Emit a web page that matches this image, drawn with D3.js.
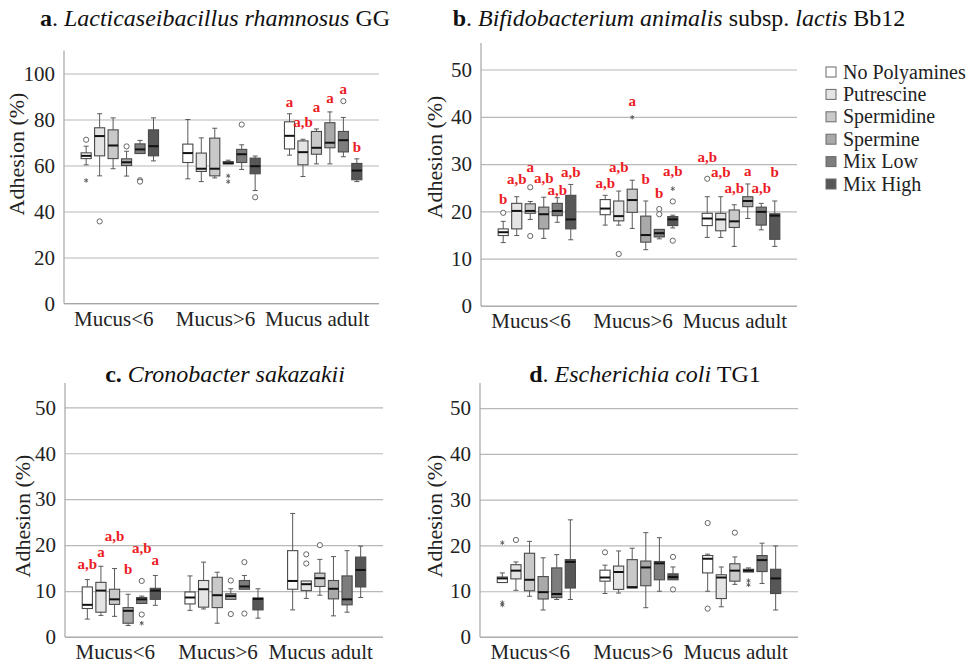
<!DOCTYPE html>
<html>
<head>
<meta charset="utf-8">
<script src="https://cdn.jsdelivr.net/npm/d3@7"></script>
<style>
body { margin: 0; background: #fff; }
text { font-family: "Liberation Serif", "Times New Roman", serif; white-space: pre; }
</style>
</head>
<body>
<script>
// categories and series
var categories = ["Mucus<6", "Mucus>6", "Mucus adult"];
var series = ["No Polyamines", "Putrescine", "Spermidine", "Spermine", "Mix Low", "Mix High"];

var ticksA = [0, 20, 40, 60, 80, 100];
var ticksBCD = [0, 10, 20, 30, 40, 50];

// box stats per category, per series: [whisker low, q1, median, q3, whisker high]
var boxesA = [
  [[60.3, 63.0, 64.2, 65.5, 68.4], [55.5, 64.2, 72.8, 76.4, 82.5], [58.6, 63.0, 68.7, 75.5, 80.7],
   [55.4, 60.0, 61.4, 62.9, 66.2], [65.2, 65.2, 67.0, 69.4, 70.9], [62.0, 64.2, 68.4, 75.5, 80.7]],
  [[54.2, 61.3, 65.4, 69.3, 80.0], [53.0, 57.4, 58.6, 65.4, 72.0], [54.6, 55.5, 58.6, 71.9, 76.2],
   [60.7, 60.7, 61.0, 61.7, 62.3], [58.3, 61.3, 64.9, 67.0, 69.0], [49.1, 56.4, 59.7, 63.2, 64.1]],
  [[64.5, 67.2, 72.9, 79.0, 82.5], [55.2, 60.3, 65.8, 70.7, 71.4], [60.7, 64.9, 67.7, 74.8, 75.9],
   [60.7, 67.7, 69.9, 78.6, 83.3], [63.8, 65.9, 71.0, 74.8, 80.9], [53.0, 53.8, 57.8, 60.9, 62.9]]
];
var boxesB = [
  [[13.4, 14.9, 15.6, 16.3, 17.9], [14.9, 16.3, 20.1, 21.7, 23.1], [18.3, 19.6, 20.1, 21.6, 22.1],
   [14.3, 16.3, 19.4, 20.9, 23.0], [17.7, 19.1, 20.1, 21.7, 22.9], [14.0, 16.3, 18.3, 23.4, 25.7]],
  [[17.1, 19.3, 20.6, 22.5, 23.4], [17.1, 18.0, 19.0, 22.2, 24.3], [16.4, 19.8, 22.4, 24.7, 26.6],
   [11.9, 13.5, 15.0, 19.0, 22.2], [14.2, 14.6, 15.4, 16.2, 16.2], [16.5, 17.0, 18.3, 18.9, 19.2]],
  [[14.5, 17.0, 18.5, 19.6, 23.1], [14.5, 15.9, 18.3, 19.6, 23.1], [12.6, 16.6, 17.9, 20.3, 21.4],
   [18.5, 21.0, 22.2, 23.1, 25.8], [16.1, 17.1, 19.9, 20.9, 21.7], [12.6, 14.1, 19.1, 19.5, 22.2]]
];
var boxesC = [
  [[3.9, 6.2, 7.0, 10.9, 12.5], [4.7, 5.4, 10.1, 11.9, 15.4], [4.5, 7.1, 8.2, 10.4, 14.9],
   [2.5, 3.0, 5.7, 6.4, 9.3], [7.3, 7.3, 8.2, 8.6, 8.9], [6.9, 8.2, 10.1, 10.6, 13.4]],
  [[5.8, 7.2, 8.6, 9.8, 13.3], [6.1, 6.5, 10.4, 12.3, 16.3], [3.0, 6.4, 9.1, 13.0, 14.1],
   [8.2, 8.2, 8.9, 9.4, 10.5], [10.4, 10.4, 11.0, 12.3, 13.4], [4.1, 5.9, 8.3, 8.5, 10.5]],
  [[5.9, 10.4, 12.2, 18.8, 26.9], [8.4, 10.1, 11.5, 12.2, 12.2], [9.1, 11.0, 12.8, 13.9, 16.9],
   [4.6, 8.3, 10.5, 12.3, 17.5], [5.4, 7.0, 8.2, 13.3, 18.8], [8.6, 10.9, 14.6, 17.4, 19.8]]
];
var boxesD = [
  [[11.9, 11.9, 12.8, 13.1, 14.0], [10.2, 12.7, 14.5, 15.8, 16.4], [8.9, 10.1, 12.5, 18.3, 20.9],
   [5.9, 8.3, 9.8, 13.2, 17.3], [8.2, 8.6, 9.4, 15.1, 18.0], [8.2, 10.7, 16.4, 16.9, 25.6]],
  [[9.5, 12.2, 13.0, 14.6, 15.7], [9.6, 10.4, 14.2, 15.5, 18.8], [10.7, 10.7, 10.9, 16.9, 19.4],
   [6.4, 11.2, 15.2, 16.6, 22.8], [10.0, 12.5, 16.1, 16.5, 21.7], [12.5, 12.5, 13.1, 13.8, 15.3]],
  [[10.0, 14.0, 17.1, 17.8, 18.1], [6.6, 8.4, 13.0, 13.6, 15.3], [11.5, 12.2, 14.5, 16.0, 17.5],
   [14.2, 14.2, 14.5, 14.8, 15.1], [11.7, 14.3, 16.8, 17.8, 20.5], [5.9, 9.5, 12.8, 14.8, 19.9]]
];

// outliers (circles) and extremes (stars): [category index, series index, value]
var outliersA = [[0,0,71.2],[0,1,35.7],[0,3,68.3],[0,4,53.6],[0,4,53.0],[1,4,77.8],[1,5,46.2],[2,4,88.0]];
var extremesA = [[0,0,53.5],[1,3,55.5],[1,3,53.0]];
var outliersB = [[0,0,19.7],[0,2,25.1],[0,2,14.8],[1,1,11.0],[1,4,20.5],[1,4,19.4],[1,5,22.1],[1,5,13.8],[2,0,26.9]];
var extremesB = [[1,2,39.9],[1,5,24.8]];
var outliersC = [[0,4,12.2],[0,4,4.9],[1,3,12.3],[1,3,5.0],[1,4,16.3],[1,4,5.1],[2,1,18.0],[2,1,16.0],[2,2,20.0]];
var extremesC = [[0,4,3.0]];
var outliersD = [[0,1,21.2],[1,0,18.5],[1,5,17.5],[1,5,10.4],[2,0,24.9],[2,0,6.2],[2,2,22.8]];
var extremesD = [[0,0,20.6],[0,0,7.5],[0,0,7.0],[2,3,12.3],[2,3,11.4]];

// significance letters: [category index, series index, letter, value where the letter sits]
var lettersA = [[2,0,"a",85.5],[2,1,"a,b",76.7],[2,2,"a",83.2],[2,3,"a",87.1],[2,4,"a",91.0],[2,5,"b",65.8]];
var lettersB = [
  [0,0,"b",21.6],[0,1,"a,b",25.8],[0,2,"a",28.3],[0,3,"a,b",25.9],[0,4,"a,b",23.5],[0,5,"a,b",27.3],
  [1,0,"a,b",25.0],[1,1,"a,b",28.3],[1,2,"a",42.2],[1,3,"b",25.7],[1,4,"b",22.9],[1,5,"a,b",27.5],
  [2,0,"a,b",30.4],[2,1,"a,b",27.2],[2,2,"a,b",23.8],[2,3,"a",27.5],[2,4,"a,b",23.8],[2,5,"b",27.2]
];
var lettersC = [[0,0,"a,b",14.9],[0,1,"a",17.5],[0,2,"a,b",20.9],[0,3,"b",13.8],[0,4,"a,b",18.2],[0,5,"a",15.7]];
var lettersD = [];

var fills = ["#ffffff", "#e4e4e4", "#c9c9c9", "#a9a9a9", "#7d7d7d", "#575757"];

var svg = d3.select("body").append("svg")
    .attr("width", 968)
    .attr("height", 665)
    .style("background", "#fff");

var panels = [
  {left: 64, right: 379, y0: 303.5, yTop: 50.5, max: 110, ticks: ticksA, boxes: boxesA,
   outliers: outliersA, extremes: extremesA, letters: lettersA, labelX: 24, labelY: 154, xlabPad: 8,
   titleX: 215, titleY: 26,
   title: [["a", "bold"], [". ", ""], ["Lacticaseibacillus rhamnosus", "italic"], [" GG", ""]]},
  {left: 481, right: 797, y0: 306, yTop: 43, max: 55.6, ticks: ticksBCD, boxes: boxesB,
   outliers: outliersB, extremes: extremesB, letters: lettersB, labelX: 442, labelY: 157, xlabPad: 7,
   titleX: 679, titleY: 26,
   title: [["b", "bold"], [". ", ""], ["Bifidobacterium animalis", "italic"], [" subsp. ", ""], ["lactis", "italic"], [" Bb12", ""]]},
  {left: 65, right: 383, y0: 637, yTop: 383, max: 55.3, ticks: ticksBCD, boxes: boxesC,
   outliers: outliersC, extremes: extremesC, letters: lettersC, labelX: 30, labelY: 516, xlabPad: 7,
   titleX: 225, titleY: 382,
   title: [["c.", "bold"], [" ", ""], ["Cronobacter sakazakii", "italic"]]},
  {left: 480, right: 798, y0: 637, yTop: 383, max: 55.5, ticks: ticksBCD, boxes: boxesD,
   outliers: outliersD, extremes: extremesD, letters: lettersD, labelX: 442, labelY: 516, xlabPad: 7,
   titleX: 645, titleY: 382,
   title: [["d", "bold"], [". ", ""], ["Escherichia coli", "italic"], [" TG1", ""]]}
];

panels.forEach(function(p) {
  var y = d3.scaleLinear().domain([0, p.max]).range([p.y0, p.yTop]);
  var x = d3.scaleBand().domain(categories).range([p.left + 5, p.right - 5]);
  var xs = d3.scaleBand().domain(series).range([0, x.bandwidth()])
      .paddingInner(0.25).paddingOuter(0.9);
  var bw = xs.bandwidth();
  function cx(ci, si) { return x(categories[ci]) + xs(series[si]) + bw / 2; }

  var g = svg.append("g");

  // grid lines + tick labels
  g.append("g")
      .attr("transform", "translate(" + p.left + ",0)")
      .call(d3.axisLeft(y).tickValues(p.ticks).tickSize(-(p.right - p.left)).tickPadding(9))
      .attr("font-family", "Liberation Serif")
      .attr("font-size", 21)
      .call(function(a) { a.select(".domain").remove(); })
      .call(function(a) { a.selectAll("line").attr("stroke", "#b8b8b8").attr("stroke-width", 1.2); })
      .call(function(a) { a.selectAll("text").attr("fill", "#222"); });

  // axis lines
  g.append("line")
      .attr("x1", p.left).attr("x2", p.left)
      .attr("y1", p.yTop).attr("y2", p.y0)
      .attr("stroke", "#a6a6a6").attr("stroke-width", 1.2);
  g.append("line")
      .attr("x1", p.left).attr("x2", p.right)
      .attr("y1", p.y0).attr("y2", p.y0)
      .attr("stroke", "#a6a6a6").attr("stroke-width", 1.2);

  // category labels
  g.append("g")
      .attr("transform", "translate(-6," + p.y0 + ")")
      .call(d3.axisBottom(x).tickSize(0).tickPadding(p.xlabPad))
      .attr("font-family", "Liberation Serif")
      .attr("font-size", 21)
      .call(function(a) { a.select(".domain").remove(); })
      .call(function(a) { a.selectAll("text").attr("fill", "#222"); });

  // y axis title
  g.append("text")
      .attr("transform", "translate(" + p.labelX + "," + p.labelY + ") rotate(-90)")
      .attr("text-anchor", "middle")
      .attr("font-size", 22)
      .attr("fill", "#222")
      .text("Adhesion (%)");

  // panel title
  var t = g.append("text")
      .attr("x", p.titleX).attr("y", p.titleY)
      .attr("text-anchor", "middle")
      .attr("font-size", 24)
      .attr("fill", "#111");
  p.title.forEach(function(part) {
    var ts = t.append("tspan").text(part[0]);
    if (part[1] == "bold") ts.attr("font-weight", "bold");
    if (part[1] == "italic") ts.attr("font-style", "italic");
  });

  var rows = [];
  p.boxes.forEach(function(row, ci) {
    row.forEach(function(b, si) {
      rows.push({ci: ci, si: si, lo: b[0], q1: b[1], med: b[2], q3: b[3], hi: b[4]});
    });
  });

  var box = g.selectAll(".box")
      .data(rows)
    .enter().append("g")
      .attr("class", "box");

  // whiskers
  box.append("line")
      .attr("x1", function(d) { return cx(d.ci, d.si); })
      .attr("x2", function(d) { return cx(d.ci, d.si); })
      .attr("y1", function(d) { return y(d.hi); })
      .attr("y2", function(d) { return y(d.q3); })
      .attr("stroke", "#5a5a5a");
  box.append("line")
      .attr("x1", function(d) { return cx(d.ci, d.si); })
      .attr("x2", function(d) { return cx(d.ci, d.si); })
      .attr("y1", function(d) { return y(d.q1); })
      .attr("y2", function(d) { return y(d.lo); })
      .attr("stroke", "#5a5a5a");
  box.filter(function(d) { return d.hi > d.q3; }).append("line")
      .attr("x1", function(d) { return cx(d.ci, d.si) - 2.5; })
      .attr("x2", function(d) { return cx(d.ci, d.si) + 2.5; })
      .attr("y1", function(d) { return y(d.hi); })
      .attr("y2", function(d) { return y(d.hi); })
      .attr("stroke", "#5a5a5a");
  box.filter(function(d) { return d.lo < d.q1; }).append("line")
      .attr("x1", function(d) { return cx(d.ci, d.si) - 2.5; })
      .attr("x2", function(d) { return cx(d.ci, d.si) + 2.5; })
      .attr("y1", function(d) { return y(d.lo); })
      .attr("y2", function(d) { return y(d.lo); })
      .attr("stroke", "#5a5a5a");

  // boxes
  box.append("rect")
      .attr("x", function(d) { return cx(d.ci, d.si) - bw / 2; })
      .attr("width", bw)
      .attr("y", function(d) { return y(d.q3); })
      .attr("height", function(d) { return Math.max(1, y(d.q1) - y(d.q3)); })
      .attr("fill", function(d) { return fills[d.si]; })
      .attr("stroke", "#4a4a4a")
      .attr("stroke-width", 1.1);

  // medians
  box.append("line")
      .attr("x1", function(d) { return cx(d.ci, d.si) - bw / 2; })
      .attr("x2", function(d) { return cx(d.ci, d.si) + bw / 2; })
      .attr("y1", function(d) { return y(d.med); })
      .attr("y2", function(d) { return y(d.med); })
      .attr("stroke", "#111")
      .attr("stroke-width", 2);

  // outliers
  g.selectAll(".out")
      .data(p.outliers)
    .enter().append("circle")
      .attr("class", "out")
      .attr("cx", function(d) { return cx(d[0], d[1]); })
      .attr("cy", function(d) { return y(d[2]); })
      .attr("r", 2.6)
      .attr("fill", "#fff")
      .attr("stroke", "#666");

  g.selectAll(".ext")
      .data(p.extremes)
    .enter().append("path")
      .attr("class", "ext")
      .attr("transform", function(d) { return "translate(" + cx(d[0], d[1]) + "," + y(d[2]) + ")"; })
      .attr("d", d3.symbol(d3.symbolAsterisk, 14))
      .attr("fill", "none")
      .attr("stroke", "#555")
      .attr("stroke-width", 0.9);

  // significance letters
  g.selectAll(".letter")
      .data(p.letters)
    .enter().append("text")
      .attr("class", "letter")
      .attr("x", function(d) { return cx(d[0], d[1]); })
      .attr("y", function(d) { return y(d[3]); })
      .attr("text-anchor", "middle")
      .attr("font-size", 15)
      .attr("font-weight", "bold")
      .attr("fill", "#ec1c24")
      .text(function(d) { return d[2]; });
});

// legend
var legend = svg.append("g")
    .attr("transform", "translate(826,67)");
var item = legend.selectAll(".item")
    .data(series)
  .enter().append("g")
    .attr("class", "item")
    .attr("transform", function(d, i) { return "translate(0," + (i * 22.4) + ")"; });
item.append("rect")
    .attr("width", 10).attr("height", 10)
    .attr("fill", function(d, i) { return fills[i]; })
    .attr("stroke", "#6a6a6a");
item.append("text")
    .attr("x", 17).attr("y", 11.5)
    .attr("font-size", 20)
    .attr("fill", "#222")
    .text(function(d) { return d; });
</script>
</body>
</html>
